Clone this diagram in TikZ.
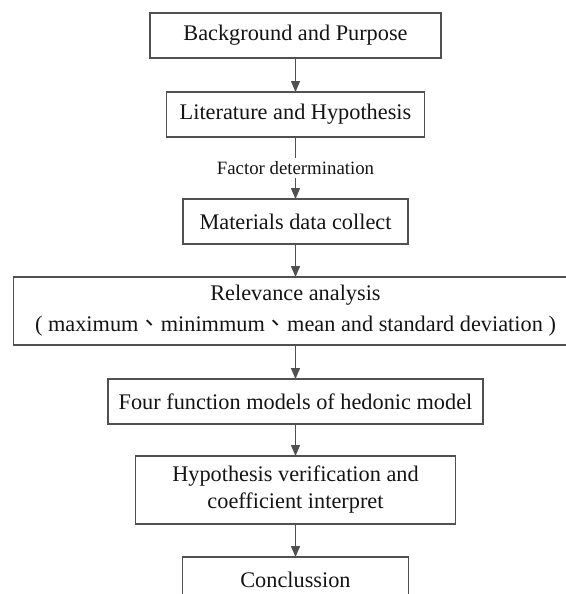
\documentclass[tikz,border=0pt]{standalone}
\usepackage{fontspec}
\setmainfont{Liberation Serif}
\newfontfamily\cjk{Noto Sans CJK TC}
\usetikzlibrary{arrows.meta,positioning,calc}
\definecolor{BoxGray}{RGB}{80, 80, 80}
\definecolor{TextBlack}{RGB}{20, 20, 20}

\begin{document}
\begin{tikzpicture}[
    x=1pt, y=1pt,
    node distance=33pt,
    box/.style={draw=BoxGray, line width=1.5pt, rectangle, minimum height=45pt, inner sep=0pt, outer sep=0pt, align=center, text=TextBlack, font=\fontsize{22.3}{27}\selectfont},
    lbl/.style={inner sep=3pt, outer sep=0pt, text=TextBlack, font=\fontsize{18.8}{22}\selectfont},
    arrow/.style={-{Triangle[length=11pt,width=9pt]}, line width=1.3pt, BoxGray}
  ]
    \useasboundingbox (0,0) rectangle (565,-594);
    \node[box, minimum width=291pt] (1) at (295.5,-35.5) {Background and Purpose};
    \node[box, minimum width=258pt, below=34pt of 1] (2) {Literature and Hypothesis};
    \node[box, minimum width=225pt, below=62pt of 2] (3) {Materials data collect};
    \node[lbl] (fd) at ($(2.south)!0.5!(3.north)$) {Factor determination};
    \node[box, minimum width=564pt, minimum height=68pt, below=33pt of 3] (4) {\raisebox{-2pt}{Relevance analysis}\\[6pt]( maximum{\cjk 、}minimmum{\cjk 、}mean and standard deviation )};
    \node[box, minimum width=375pt, below=34pt of 4] (5) {Four function models of hedonic model};
    \node[box, minimum width=320pt, minimum height=68pt, below=32pt of 5] (6) {Hypothesis verification and\\coefficient interpret};
    \node[box, minimum width=226pt, below=33pt of 6] (7) {Conclussion};

    \draw[arrow] (1) -- (2);
    \draw[BoxGray, line width=1.3pt] (2) -- (fd);
    \draw[arrow] (fd) -- (3);
    \draw[arrow] (3) -- (4);
    \draw[arrow] (4) -- (5);
    \draw[arrow] (5) -- (6);
    \draw[arrow] (6) -- (7);
  \end{tikzpicture}
\end{document}
